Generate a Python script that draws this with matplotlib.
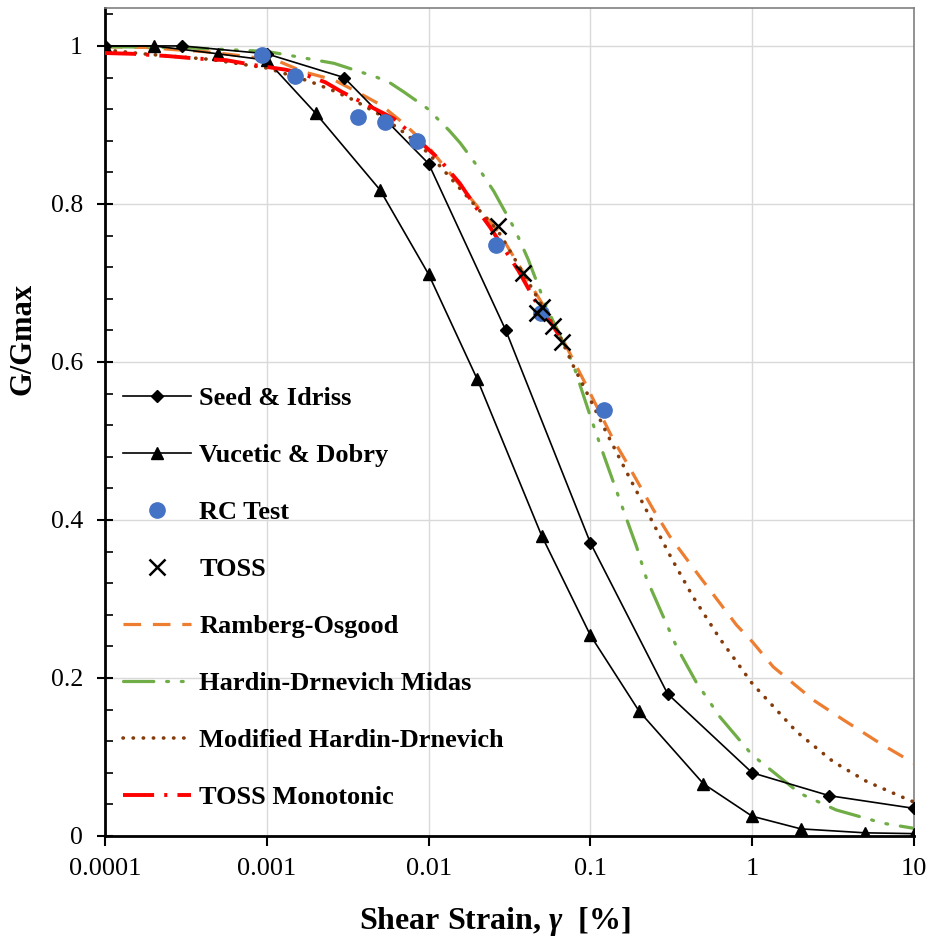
import matplotlib
matplotlib.use("Agg")
import matplotlib.pyplot as plt
from matplotlib.ticker import MultipleLocator, FixedLocator, NullLocator

# Seed & Idriss
seed_x = [0.0001, 0.0003, 0.001, 0.003, 0.01, 0.03, 0.1, 0.3, 1, 3, 10]
seed_y = [1.0, 1.0, 0.99, 0.96, 0.851, 0.64, 0.371, 0.18, 0.08, 0.051, 0.035]

# Vucetic & Dobry
vd_x = [0.0001, 0.0002, 0.0005, 0.001, 0.002, 0.005, 0.01, 0.02, 0.05, 0.1, 0.2, 0.5, 1, 2, 5, 10]
vd_y = [1.0, 1.0, 0.99, 0.982, 0.915, 0.818, 0.711, 0.578, 0.38, 0.254, 0.158, 0.066, 0.025, 0.009, 0.004, 0.003]

# RC test
rc_x = [0.00093, 0.00149, 0.00366, 0.0054, 0.00848, 0.0261, 0.0495, 0.121]
rc_y = [0.989, 0.962, 0.910, 0.904, 0.880, 0.748, 0.662, 0.539]

# TOSS
toss_x = [0.027, 0.0382, 0.0466, 0.0505, 0.0585, 0.067]
toss_y = [0.772, 0.712, 0.662, 0.669, 0.645, 0.625]

# Ramberg-Osgood
ro_x = [0.0001, 0.00018, 0.00028, 0.0004, 0.0005, 0.0008, 0.0012, 0.0017, 0.0026, 0.0036,
        0.0051, 0.007, 0.0097, 0.0189, 0.027, 0.038, 0.05, 0.065, 0.095, 0.139, 0.164,
        0.245, 0.31, 0.475, 0.8, 1.0, 1.35, 2.39, 3.66, 6.2, 10]
ro_y = [0.999, 0.998, 0.995, 0.993, 0.991, 0.986, 0.980, 0.967, 0.957, 0.942,
        0.925, 0.902, 0.875, 0.803, 0.765, 0.715, 0.675, 0.635, 0.569, 0.501, 0.476,
        0.413, 0.379, 0.328, 0.267, 0.246, 0.214, 0.172, 0.147, 0.117, 0.092]

# Hardin-Drnevich Midas
hd_x = [0.0001, 0.0003, 0.001, 0.0013, 0.0026, 0.0038, 0.0047, 0.0058, 0.007, 0.0098,
        0.0134, 0.0157, 0.0198, 0.0253, 0.0281, 0.0341, 0.0412, 0.0534, 0.078, 0.1,
        0.12, 0.152, 0.193, 0.222, 0.34, 0.45, 0.63, 1.0, 1.97, 3.3, 6.5, 10]
hd_y = [0.999, 0.998, 0.993, 0.989, 0.978, 0.967, 0.961, 0.953, 0.942, 0.921,
        0.893, 0.877, 0.849, 0.816, 0.799, 0.768, 0.73, 0.67, 0.598, 0.531,
        0.484, 0.425, 0.366, 0.326, 0.24, 0.195, 0.151, 0.1025, 0.054, 0.033, 0.016, 0.0097]

# Modified Hardin-Drnevich
mhd_x = [0.0001, 0.000172, 0.000446, 0.001, 0.00185, 0.0026, 0.0034, 0.0048, 0.0073, 0.01,
         0.019, 0.027, 0.038, 0.05, 0.065, 0.078, 0.1, 0.126, 0.171, 0.233, 0.318,
         0.43, 0.63, 1.0, 1.88, 3.17, 5.1, 9.2, 10]
mhd_y = [0.995, 0.99, 0.983, 0.972, 0.955, 0.943, 0.932, 0.915, 0.888, 0.864,
         0.80, 0.765, 0.714, 0.672, 0.632, 0.596, 0.552, 0.51, 0.457, 0.404, 0.351,
         0.303, 0.25, 0.193, 0.132, 0.094, 0.069, 0.046, 0.043]

# TOSS Monotonic
tm_x = [0.0001, 0.00015, 0.00025, 0.00037, 0.00056, 0.00082, 0.0013, 0.0016, 0.0023, 0.0029,
        0.0042, 0.0061, 0.008, 0.0117, 0.0156, 0.0208, 0.0239, 0.0358, 0.0466, 0.0589, 0.064]
tm_y = [0.991, 0.990, 0.987, 0.984, 0.982, 0.976, 0.970, 0.966, 0.954, 0.942,
        0.925, 0.908, 0.887, 0.856, 0.826, 0.788, 0.771, 0.716, 0.674, 0.645, 0.634]

serif = ['Liberation Serif', 'DejaVu Serif']
plt.rcParams['font.family'] = serif
plt.rcParams['mathtext.fontset'] = 'custom'
plt.rcParams['mathtext.it'] = 'Liberation Serif:italic:bold'
plt.rcParams['mathtext.rm'] = 'Liberation Serif:bold'

fig = plt.figure(figsize=(9.31, 9.36), dpi=100)
ax = fig.add_axes([105 / 931, 1 - 836 / 936, 809 / 931, 828 / 936])

ax.plot(seed_x, seed_y, color='black', lw=1.2, marker='D', ms=6.5, label='Seed & Idriss', zorder=4)
ax.plot(vd_x, vd_y, color='black', lw=1.2, marker='^', ms=9, label='Vucetic & Dobry', zorder=4)
ax.plot(rc_x, rc_y, ls='none', marker='o', ms=11, color='#4472C4', label='RC Test', zorder=6)
ax.plot(toss_x, toss_y, ls='none', marker='x', ms=12, mew=1.8, color='black', label='TOSS', zorder=7)
ax.plot(ro_x, ro_y, color='#ED7D31', lw=2.3, ls=(0, (5.5, 3.7)), label='Ramberg-Osgood', zorder=3)
ax.plot(hd_x, hd_y, color='#70AD47', lw=2.3, ls=(0, (9.5, 4, 0.6, 4, 0.6, 4)),
        dash_capstyle='round', label='Hardin-Drnevich Midas', zorder=3)
ax.plot(mhd_x, mhd_y, color='#843C0C', lw=2.6, ls=(0, (0.1, 2.7)),
        dash_capstyle='round', label='Modified Hardin-Drnevich', zorder=3)
ax.plot(tm_x, tm_y, color='#FF0000', lw=2.8, ls=(0, (8, 2.6, 0.8, 2.6)),
        label='TOSS Monotonic', zorder=5)

ax.set_xscale('log')
ax.set_xlim(0.0001, 10)
ax.set_ylim(0, 1.048)
ax.xaxis.set_major_locator(FixedLocator([0.0001, 0.001, 0.01, 0.1, 1, 10]))
ax.xaxis.set_minor_locator(NullLocator())
ax.set_xticklabels(['0.0001', '0.001', '0.01', '0.1', '1', '10'])
ax.yaxis.set_major_locator(FixedLocator([0, 0.2, 0.4, 0.6, 0.8, 1.0]))
ax.set_yticklabels(['0', '0.2', '0.4', '0.6', '0.8', '1'])
ax.yaxis.set_minor_locator(MultipleLocator(0.04))

ax.grid(True, which='major', color='#D9D9D9', lw=1)
ax.set_axisbelow(True)
ax.tick_params(axis='x', which='major', direction='out', length=7, width=1.5, labelsize=19, pad=9)
ax.tick_params(axis='y', which='major', direction='inout', length=12, width=1.5, labelsize=18.5, pad=10)
ax.tick_params(axis='y', which='minor', direction='in', length=6, width=1.2)

for s in ['left', 'bottom']:
    ax.spines[s].set_linewidth(2)
    ax.spines[s].set_color('black')
for s in ['top', 'right']:
    ax.spines[s].set_linewidth(1.2)
    ax.spines[s].set_color('#808080')

ax.set_xlabel(r'Shear Strain, $\gamma$  [%]', fontsize=23, fontweight='bold')
ax.xaxis.set_label_coords(0.482, -0.083)
ax.set_ylabel('G/Gmax', fontsize=22, fontweight='bold')
ax.yaxis.set_label_coords(-0.083, 0.600)

leg = ax.legend(loc='upper left', bbox_to_anchor=(0.022, 0.543), frameon=False,
                prop={'family': serif, 'weight': 'bold', 'size': 19},
                handlelength=2.6, handletextpad=0.3, labelspacing=1.27,
                borderpad=0, borderaxespad=0)

fig.savefig('out.png', dpi=100)
